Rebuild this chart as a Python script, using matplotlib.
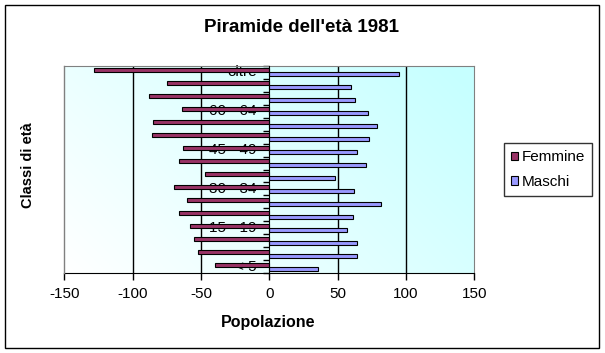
import numpy as np
import matplotlib
matplotlib.use("Agg")
import matplotlib.pyplot as plt
from matplotlib.patches import Rectangle, Patch

plt.rcParams['font.family'] = ['Liberation Sans', 'DejaVu Sans']

classes = ["< 5", "5 - 9", "10 - 14", "15 - 19", "20 - 24", "25 - 29", "30 - 34",
           "35 - 39", "40 - 44", "45 - 49", "50 - 54", "55 - 59", "60 - 64",
           "65 - 69", "70 - 74", "oltre"]
shown_labels = {"< 5", "15 - 19", "30 - 34", "45 - 49", "60 - 64", "oltre"}
femmine = [-40, -52, -55, -58, -66, -60, -70, -47, -66, -63, -86, -85, -64, -88, -75, -128]
maschi = [36, 64, 64, 57, 61, 82, 62, 48, 71, 64, 73, 79, 72, 63, 60, 95]
xticks = [-150, -100, -50, 0, 50, 100, 150]

fig = plt.figure(figsize=(6.05, 3.53), dpi=100)
fig.patch.set_facecolor('white')
# outer chart border
fig.patches.append(Rectangle((5/605, 1-347.5/353), 594/605, 342.5/353, transform=fig.transFigure,
                             fill=False, edgecolor='black', linewidth=1.0))

ax = fig.add_axes([64.3/605, (353-273.3)/353, 410/605, 207.6/353])
ax.set_xlim(-150, 150)
n = len(classes)
ax.set_ylim(-0.5, n - 0.5)

# gradient background
xx, yy = np.meshgrid(np.linspace(0, 1, 200), np.linspace(0, 1, 100))
t = np.clip(0.7 * xx + 0.35 * yy, 0, 1)
c0 = np.array([1.0, 1.0, 1.0])
c1 = np.array([0.78, 1.0, 1.0])
img = c0[None, None, :] * (1 - t[..., None]) + c1[None, None, :] * t[..., None]
ax.imshow(img, extent=[-150, 150, -0.5, n - 0.5], origin='lower', aspect='auto', zorder=0)

# gridlines
for g in [-100, -50, 50, 100]:
    ax.axvline(g, color='black', linewidth=1.0, zorder=1)

y = np.arange(n)
h = 0.31
ax.barh(y + h / 2, femmine, height=h, color='#993366', edgecolor='black', linewidth=0.8,
        zorder=3, label='Femmine')
ax.barh(y - h / 2, maschi, height=h, color='#9999FF', edgecolor='black', linewidth=0.8,
        zorder=3, label='Maschi')

# category labels near the zero axis
for yi, lab in zip(y, classes):
    if lab in shown_labels:
        ax.text(-9, yi, lab, ha='right', va='center', fontsize=11, color='black', zorder=2)

# spines
ax.spines['left'].set_position(('data', 0))
ax.spines['left'].set_color('black')
ax.spines['left'].set_zorder(4)
ax.spines['top'].set_color('#808080')
ax.spines['right'].set_color('#808080')
ax.spines['bottom'].set_color('black')
ax.plot([0, 0], [0, 1], transform=ax.transAxes, color='#808080', linewidth=1.0, clip_on=False, zorder=5)

ax.set_yticks(np.arange(-0.5, n, 1.0))
ax.set_yticklabels([])
ax.tick_params(axis='y', direction='out', length=4, width=1, color='black')
ax.set_xticks(xticks)
ax.set_xticklabels([str(v) for v in xticks], fontsize=11)
ax.tick_params(axis='x', direction='out', length=5, width=1, pad=5)

fig.text(301/605, 1 - 28/353, "Piramide dell'età 1981", ha='center', va='center',
         fontsize=13.5, fontweight='bold')
fig.text(268/605, 1 - 322.5/353, "Popolazione", ha='center', va='center',
         fontsize=11.5, fontweight='bold')
fig.text(28/605, 1 - 165/353, "Classi di età", ha='center', va='center',
         fontsize=10.5, fontweight='bold', rotation=90)

handles = [Patch(facecolor='#993366', edgecolor='black', linewidth=0.8),
           Patch(facecolor='#9999FF', edgecolor='black', linewidth=0.8)]
leg = fig.legend(handles, ['Femmine', 'Maschi'], loc='upper left',
                 bbox_to_anchor=(504/605, 1 - 143.3/353), fontsize=11,
                 frameon=True, fancybox=False, handlelength=0.45, handleheight=0.45,
                 handletextpad=0.25, labelspacing=0.7, borderpad=0.45, borderaxespad=0)
leg.get_frame().set_edgecolor('black')
leg.get_frame().set_linewidth(1.0)

fig.savefig('out.png', dpi=100)
